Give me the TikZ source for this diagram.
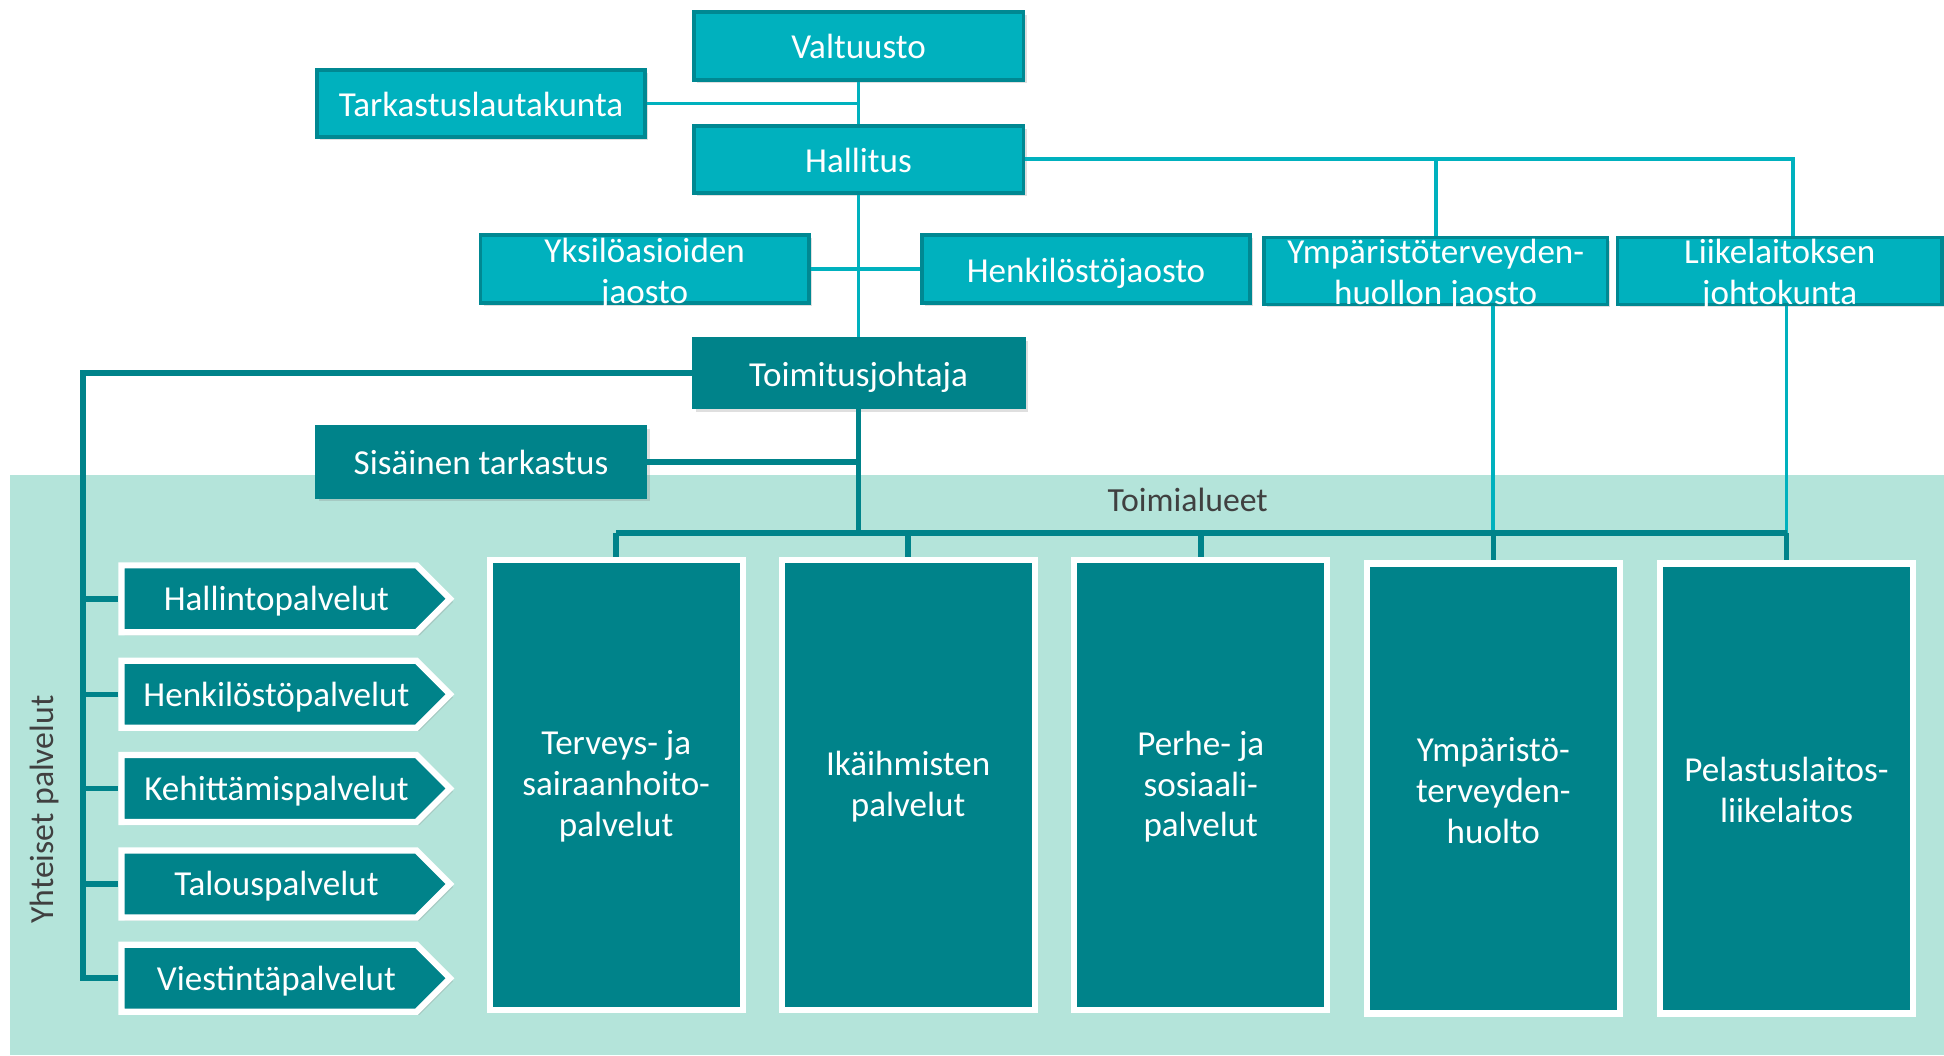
\documentclass[tikz,border=0pt]{standalone}
\usepackage{fontspec}
\setmainfont{Carlito}
\usetikzlibrary{shapes.symbols,shadows}

\definecolor{lightteal}{RGB}{0,177,190}
\definecolor{lightedge}{RGB}{0,136,146}
\definecolor{darkteal}{RGB}{0,131,138}
\definecolor{mintbg}{RGB}{180,228,218}
\definecolor{labelgray}{RGB}{64,64,64}

\newcommand{\boxfont}{\fontsize{16.1}{18.8}\selectfont}
\newcommand{\sidefont}{\fontsize{15.5}{18.8}\selectfont}

\tikzset{
  softshadow/.style={drop shadow={opacity=0.25, shadow xshift=0.05cm, shadow yshift=-0.05cm}},
  topbox/.style={draw=lightedge, line width=0.06cm, fill=lightteal, minimum width=5.32cm,
    minimum height=1.1cm, inner sep=0pt, text=white, font=\boxfont, text height=13pt,
    text depth=1pt, softshadow},
  boxtext/.style={text=white, align=center, font=\boxfont, inner sep=0pt, yshift=-0.07cm},
  areatext/.style={boxtext, yshift=0.04cm},
  lowbox/.style={draw=darkteal, line width=0.03cm, fill=darkteal, minimum width=5.36cm,
    minimum height=1.14cm, inner sep=0pt, text=white, font=\boxfont, text height=13pt,
    text depth=1pt, softshadow},
  areabox/.style={draw=white, line width=0.1cm, fill=darkteal, minimum width=4.08cm,
    minimum height=7.26cm, inner sep=0pt, softshadow},
  servicebox/.style={signal, signal to=east, signal pointer angle=90, draw=white, line width=0.1cm,
    fill=darkteal, minimum width=5.3cm, minimum height=1.08cm, inner sep=0pt, text=white,
    font=\boxfont, text height=12pt, text depth=1pt, anchor=west, softshadow,
    execute at begin node=\hspace*{0.24cm}},
  sidelabel/.style={text=labelgray, font=\sidefont, inner sep=0pt},
  topline/.style={draw=lightteal, line width=0.06cm},
  lowline/.style={draw=darkteal, line width=0.09cm},
}

\begin{document}
\begin{tikzpicture}[x=0.02cm, y=-0.02cm]
    \useasboundingbox (0,0) rectangle (1568,851);

    % taustat
    \fill[mintbg] (8,383) rectangle (1568,851);

    % luottamuselimet
    \node[topbox] (valtuusto) at (692.5,37) {Valtuusto};
    \node[topbox, minimum width=5.3cm, minimum height=1.08cm] (tarkastus) at (388,83.5) {Tarkastuslautakunta};
    \node[topbox, minimum height=1.08cm] (hallitus) at (692.5,128.5) {Hallitus};
    \node[topbox, minimum width=5.3cm, label={[boxtext]center:Yksilöasioiden\\jaosto}] (yksilo) at (520,217) {};
    \node[topbox, minimum width=5.3cm] (henkilosto) at (876,217) {Henkilöstöjaosto};
    \node[topbox, minimum width=5.54cm, minimum height=1.08cm,
          label={[boxtext]center:Ympäristöterveyden-\\huollon jaosto}] (ymparjaosto) at (1158,218.5) {};
    \node[topbox, minimum width=5.24cm, minimum height=1.08cm,
          label={[boxtext]center:Liikelaitoksen\\johtokunta}] (liikejohto) at (1435.5,218.5) {};

    % johto
    \node[lowbox] (tj) at (692.5,301) {Toimitusjohtaja};
    \node[lowbox, minimum width=5.34cm, minimum height=1.16cm] (sisainen) at (388,372.5) {Sisäinen tarkastus};

    % toimialueet
    \node[sidelabel] (toimialueet) at (958,403) {Toimialueet};
    \node[areabox, label={[areatext]center:Terveys- ja\\sairaanhoito-\\palvelut}] (ta1) at (497,633) {};
    \node[areabox, label={[areatext]center:Ikäihmisten\\palvelut}] (ta2) at (732.5,633) {};
    \node[areabox, label={[areatext]center:Perhe- ja\\sosiaali-\\palvelut}] (ta3) at (968.5,633) {};
    \node[areabox, label={[areatext]center:Ympäristö-\\terveyden-\\huolto}] (ta4) at (1204.5,636) {};
    \node[areabox, label={[areatext]center:Pelastuslaitos-\\liikelaitos}] (ta5) at (1441,636) {};

    % yhteiset palvelut
    \node[sidelabel, rotate=90] (yhteiset) at (36,653) {Yhteiset palvelut};
    \node[servicebox] (yp1) at (95.5,483) {Hallintopalvelut};
    \node[servicebox] (yp2) at (95.5,560) {Henkilöstöpalvelut};
    \node[servicebox] (yp3) at (95.5,636) {Kehittämispalvelut};
    \node[servicebox] (yp4) at (95.5,713) {Talouspalvelut};
    \node[servicebox] (yp5) at (95.5,789) {Viestintäpalvelut};

    \coordinate (bus) at (0,430);
    \coordinate (spine) at (67,0);

    % yhteydet ylhaalla
    \draw[topline] (valtuusto.south) -- (hallitus.north);
    \draw[topline] (tarkastus.east) -- (tarkastus.east -| valtuusto.south);
    \draw[topline] (hallitus.south) -- (tj.north);
    \draw[topline] (yksilo.east) -- (henkilosto.west);
    \draw[topline] (hallitus.east) -| ([xshift=0.21cm]liikejohto.north);
    \draw[topline] (hallitus.east -| ymparjaosto.north) -- (ymparjaosto.north);
    \draw[topline] (ta4.north |- ymparjaosto.south) -- (ta4.north |- bus);
    \draw[topline] (ta5.north |- liikejohto.south) -- (ta5.north |- bus);

    % yhteydet alhaalla
    \draw[lowline] (tj.west) -| (spine |- yp5.west) -- (yp5.west);
    \draw[lowline] (spine |- yp1.west) -- (yp1.west);
    \draw[lowline] (spine |- yp2.west) -- (yp2.west);
    \draw[lowline] (spine |- yp3.west) -- (yp3.west);
    \draw[lowline] (spine |- yp4.west) -- (yp4.west);
    \draw[lowline] (sisainen.east) -- (sisainen.east -| tj.south);
    \draw[lowline] (tj.south) -- (tj.south |- bus);
    \draw[lowline] (ta1.north |- bus) -- (ta5.north |- bus);
    \draw[lowline] (ta1.north |- bus) -- (ta1.north);
    \draw[lowline] (ta2.north |- bus) -- (ta2.north);
    \draw[lowline] (ta3.north |- bus) -- (ta3.north);
    \draw[lowline] (ta4.north |- bus) -- (ta4.north);
    \draw[lowline] (ta5.north |- bus) -- (ta5.north);
\end{tikzpicture}
\end{document}
